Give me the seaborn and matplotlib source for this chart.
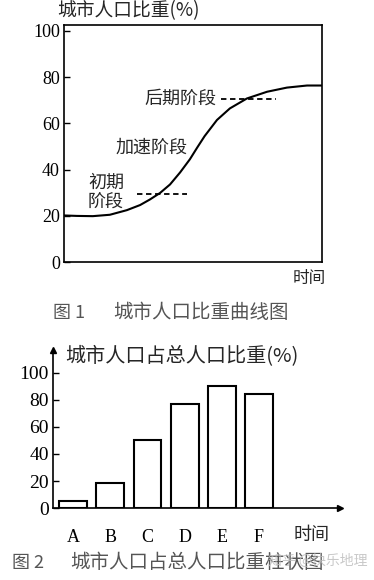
import matplotlib
matplotlib.use("Agg")
import matplotlib.pyplot as plt
import seaborn as sns
import pandas as pd

sns.set_theme(style="white")
plt.rcParams["font.family"] = ["Noto Sans CJK SC", "DejaVu Sans"]

# Figure 1 data: urban population share curve (time as 0-100 across the axis)
curve_time = [0, 5, 11.2, 17.8, 24.4, 29.5, 33.3, 37.2, 41.1, 45, 48.8, 51.6, 54.5,
              59.3, 64.3, 70.9, 78.7, 86.4, 94.2, 100]
curve_share = [20.2, 20, 19.9, 20.5, 22.5, 24.7, 27.1, 29.9, 33.6, 38.8, 44.5, 49.5, 54.5,
               61.5, 66.5, 70.8, 73.7, 75.5, 76.4, 76.4]
stage_names = ["初期\n阶段", "加速阶段", "后期阶段"]

# Figure 2 data: bar chart
bar_labels = ["A", "B", "C", "D", "E", "F"]
bar_values = [5, 18.5, 50.5, 77, 90.5, 84.5]

num_font = "Liberation Serif"
cjk = ["Noto Sans CJK SC", "DejaVu Sans"]

fig = plt.figure(figsize=(3.74, 5.80), dpi=100)

# ---------- figure 1 ----------
ax1 = fig.add_axes([0.171, 0.548, 0.690, 0.409])
df1 = pd.DataFrame({"t": curve_time, "v": curve_share})
sns.lineplot(data=df1, x="t", y="v", ax=ax1, color="black", linewidth=1.5)
ax1.set_xlim(0, 100)
ax1.set_ylim(0, 102.6)
ax1.set_xticks([])
ax1.set_yticks([0, 20, 40, 60, 80, 100])
ax1.set_yticklabels(["0", "20", "40", "60", "80", "100"], fontfamily=num_font, fontsize=13)
ax1.tick_params(axis="y", direction="in", length=4, width=1, left=True, pad=3, colors="black")
ax1.set_xlabel("")
ax1.set_ylabel("")
for s in ax1.spines.values():
    s.set_color("black")
    s.set_linewidth(1.2)

# stage markers
ax1.plot([28.3, 47.7], [29.4, 29.4], ls=(0, (3, 2)), color="black", lw=1.3)
ax1.plot([61, 82], [70.5, 70.5], ls=(0, (3, 2)), color="black", lw=1.3)
ax1.text(9.3, 30, stage_names[0], fontsize=13, ha="left", va="center",
         linespacing=1.15, family=cjk)
ax1.text(48, 49.6, stage_names[1], fontsize=13, ha="right", va="center", family=cjk)
ax1.text(59, 70.5, stage_names[2], fontsize=13, ha="right", va="center", family=cjk)

fig.text(57 / 374, 1 - 11 / 580, "城市人口比重(%)", fontsize=13.5, ha="left", va="center", family=cjk)
fig.text(309 / 374, 1 - 278 / 580, "时间", fontsize=12, ha="center", va="center", family=cjk)
fig.text(53 / 374, 1 - 313 / 580, "图 1", fontsize=13, ha="left", va="center",
         color="#555555", family=cjk)
fig.text(113 / 374, 1 - 313 / 580, "城市人口比重曲线图", fontsize=14, ha="left", va="center",
         color="#555555", family=cjk)

# ---------- figure 2 ----------
ax2 = fig.add_axes([0.142, 0.124, 0.767, 0.273])
df2 = pd.DataFrame({"cat": bar_labels, "val": bar_values})
sns.barplot(data=df2, x="cat", y="val", ax=ax2, color="white", edgecolor="black",
            linewidth=1.5, width=0.75, saturation=1)
ax2.set_xlim(-0.54, 7.18)
ax2.set_ylim(0, 117)
ax2.set_yticks([0, 20, 40, 60, 80, 100])
ax2.set_yticklabels(["0", "20", "40", "60", "80", "100"], fontfamily=num_font, fontsize=14)
ax2.set_xticks(range(len(bar_labels)))
ax2.set_xticklabels(bar_labels, fontfamily=num_font, fontsize=13)
ax2.tick_params(axis="y", direction="in", length=4, width=1, left=True, pad=3, colors="black")
ax2.tick_params(axis="x", length=0, pad=15, colors="black")
ax2.set_xlabel("")
ax2.set_ylabel("")
ax2.spines["top"].set_visible(False)
ax2.spines["right"].set_visible(False)
for side in ["left", "bottom"]:
    ax2.spines[side].set_color("black")
    ax2.spines[side].set_linewidth(1.2)
ax2.plot(1, 0, marker=">", color="black", ms=5, transform=ax2.transAxes, clip_on=False)
ax2.plot(0, 1, marker="^", color="black", ms=5, transform=ax2.transAxes, clip_on=False)

fig.text(65 / 374, 1 - 357 / 580, "城市人口占总人口比重(%)", fontsize=14.5, ha="left",
         va="center", family=cjk)
fig.text(312 / 374, 1 - 535 / 580, "时间", fontsize=13, ha="center", va="center", family=cjk)
fig.text(12 / 374, 1 - 563 / 580, "图 2", fontsize=13, ha="left", va="center",
         color="#555555", family=cjk)
fig.text(70 / 374, 1 - 563 / 580, "城市人口占总人口比重柱状图", fontsize=14, ha="left",
         va="center", color="#555555", family=cjk)
# faint watermark, overlapping the caption as in the source image
fig.text(268 / 374, 1 - 561 / 580, "知乎 @快乐地理", fontsize=10, ha="left", va="center",
         color="#bbbbbb", alpha=0.8, family=cjk)

fig.savefig("out.png", dpi=100, facecolor="white")
